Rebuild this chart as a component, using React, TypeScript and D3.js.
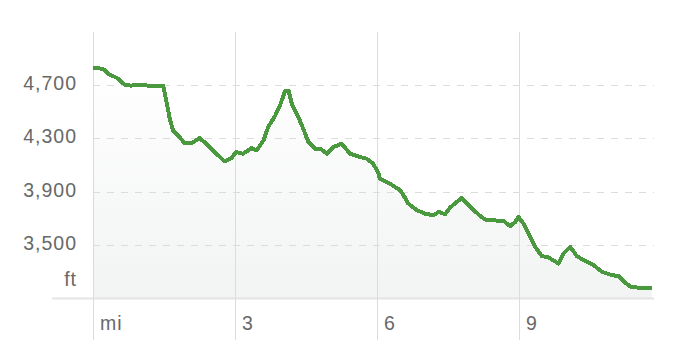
import React from "react";
import * as d3 from "d3";

const miles = [0,0.21,0.32,0.53,0.67,0.8,0.99,1.16,1.3,1.48,1.54,1.62,1.69,1.8,1.94,2.07,2.25,2.36,2.57,2.78,2.92,3.02,3.17,3.35,3.46,3.6,3.7,3.85,3.95,4.06,4.13,4.2,4.34,4.44,4.55,4.69,4.8,4.94,5.08,5.25,5.43,5.64,5.78,5.92,6.03,6.06,6.27,6.49,6.56,6.66,6.84,7.01,7.19,7.3,7.44,7.54,7.79,7.96,8.14,8.28,8.39,8.67,8.81,8.92,8.99,9.09,9.2,9.34,9.48,9.62,9.83,9.94,10.08,10.22,10.36,10.57,10.75,10.96,11.1,11.24,11.38,11.66,11.8];
const elevation = [4832,4823,4787,4750,4703,4697,4705,4697,4692,4697,4600,4450,4360,4322,4262,4262,4302,4270,4197,4127,4150,4197,4185,4227,4210,4285,4385,4472,4547,4660,4660,4560,4460,4373,4272,4223,4223,4185,4235,4260,4185,4160,4148,4110,4035,3998,3960,3910,3872,3810,3760,3735,3722,3747,3730,3780,3852,3790,3728,3690,3685,3680,3640,3672,3710,3660,3585,3485,3415,3405,3360,3435,3485,3415,3385,3348,3297,3272,3265,3215,3180,3177,3172];
const yTicks = [3500, 3900, 4300, 4700];
const xTicks = [3, 6, 9];

export default function App() {
  const W = 692, H = 350;
  const x = d3.scaleLinear().domain([0, 11.85]).range([93, 654]);
  const y = d3.scaleLinear().domain([3100, 5100]).range([298, 32]);
  const pts = miles.map((m, i) => [m, elevation[i]] as [number, number]);
  const line = d3.line<[number, number]>().x(d => x(d[0])).y(d => y(d[1]));
  const area = d3.area<[number, number]>().x(d => x(d[0])).y0(y(3100)).y1(d => y(d[1]));
  const font = "'Liberation Sans', Arial, sans-serif";
  const ts = { fontSize: 19.5, fill: "#686868", fontFamily: font, letterSpacing: 1 } as const;
  return (
    <svg width={W} height={H} style={{ position: "absolute", left: 0, top: 0 }}>
      <defs>
        <linearGradient id="fillg" x1="0" y1="0" x2="0" y2="1" gradientUnits="userSpaceOnUse"
          gradientTransform={`translate(0,${y(4850)}) scale(1,${y(3100) - y(4850)})`}>
          <stop offset="0" stopColor="#ffffff" />
          <stop offset="1" stopColor="#f2f3f3" />
        </linearGradient>
      </defs>
      <path d={area(pts) || ""} fill="url(#fillg)" />
      {yTicks.map(t => (
        <g key={t}>
          <line x1={93} x2={654} y1={Math.round(y(t)) + 0.5} y2={Math.round(y(t)) + 0.5} stroke="#dcdcdc" strokeDasharray="7,7" />
          <text x={77} y={y(t) + 5} textAnchor="end" {...ts}>{d3.format(",")(t)}</text>
        </g>
      ))}
      <text x={77} y={286} textAnchor="end" {...ts}>ft</text>
      <line x1={52} x2={654} y1={298.5} y2={298.5} stroke="#e4e4e4" strokeWidth={2} />
      {[0, ...xTicks].map(t => (
        <g key={t}>
          <line x1={Math.round(x(t)) + 0.5} x2={Math.round(x(t)) + 0.5} y1={32} y2={340} stroke="#dcdcdc" />
          <text x={x(t) + 7} y={330} {...ts}>{t === 0 ? "mi" : t}</text>
        </g>
      ))}
      <path d={line(pts) || ""} fill="none" stroke="#4b993e" strokeWidth={4} strokeLinejoin="round" shapeRendering="crispEdges" />
    </svg>
  );
}
